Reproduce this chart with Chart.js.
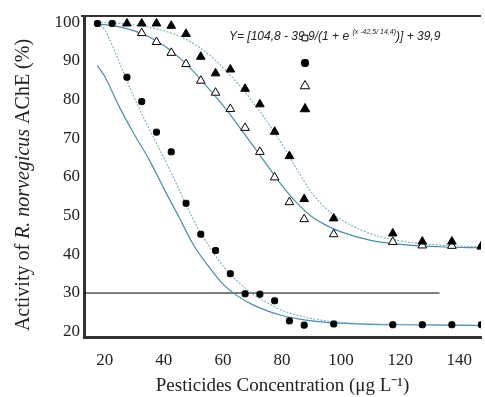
<!DOCTYPE html>
<html lang="en">
<head>
<meta charset="UTF-8" />
<title>AChE activity vs pesticide concentration</title>
<script src="https://cdn.jsdelivr.net/npm/chart.js"></script>
<style>
  html, body { margin: 0; padding: 0; background: #fff; }
  canvas { display: block; }
</style>
</head>
<body>
<canvas id="acheChart" width="485" height="397"></canvas>
<script>
  // measured points (concentration, % activity)
  const concDots = [17.5, 22.5, 27.5, 32.5, 37.5, 42.5, 47.5, 52.5, 57.5, 62.5, 67.5, 72.5, 77.5, 82.5, 87.5, 97.5, 117.5, 127.5, 137.5, 147.5];
  const actDots = [99.7, 99.7, 85.8, 79.5, 71.6, 66.5, 53.2, 45.2, 41, 35, 29.8, 29.7, 28, 22.8, 21.7, 22, 21.8, 21.8, 21.8, 21.8];

  const concOpenTri = [32.5, 37.5, 42.5, 47.5, 52.5, 57.5, 62.5, 67.5, 72.5, 77.5, 82.5, 87.5, 97.5, 117.5, 127.5, 137.5, 147.5];
  const actOpenTri = [97.2, 94.9, 92.1, 89.2, 84.9, 81.8, 77.6, 72.7, 66.5, 59.9, 53.5, 49.1, 45.2, 43.2, 42.3, 42.2, 42];

  const concFillTri = [27.5, 32.5, 37.5, 42.5, 47.5, 52.5, 57.5, 62.5, 67.5, 72.5, 77.5, 82.5, 87.5, 97.5, 117.5, 127.5, 137.5, 147.5];
  const actFillTri = [99.7, 99.7, 99.7, 99.1, 97, 91.1, 86.8, 87.8, 82.8, 78.8, 71.7, 65.4, 54.3, 49.3, 45.4, 43.3, 43.3, 42.2];

  // fitted curves at these concentrations
  const curveX = [17.5, 20, 25, 30, 35, 40, 45, 50, 55, 60, 65, 70, 75, 80, 85, 90, 95, 100, 110, 120, 135, 147.5];
  const fitLowA = [88.8, 86, 78, 71, 64.5, 57, 49.8, 42.5, 37, 32.3, 29.2, 27, 25.4, 24.2, 23.4, 22.8, 22.4, 22.2, 21.9, 21.8, 21.7, 21.6];
  const fitLowB = [99.7, 98, 89.5, 80.5, 72.5, 65, 57, 49, 42.5, 37, 33, 29.8, 27.5, 25.5, 24.3, 23.4, 22.8, 22.4, 22, 21.9, 21.8, 21.7];
  const fitHighA = [99.5, 99.4, 98.8, 97.8, 96.2, 94, 91, 87.3, 83, 78.5, 73.5, 68.3, 63, 57.8, 53.3, 49.8, 47.5, 45.8, 43.6, 42.6, 41.9, 41.7];
  const fitHighB = [100, 99.9, 99.7, 99.3, 98.7, 97.8, 96.5, 94.5, 91.8, 88.3, 84.2, 79.5, 74.3, 68.5, 62, 56, 51.8, 49, 45.3, 43.5, 42.3, 42];

  // 30 % reference line
  const refLineX = [12.96, 133.3];
  const refLineY = [30, 30];

  const xTicks = [20, 40, 60, 80, 100, 120, 140];
  const yTicks = [20, 30, 40, 50, 60, 70, 80, 90, 100];

  const eqMain = 'Y= [104,8 - 39,9/(1 + e ';
  const eqSup = '(x -42,5/ 14,4)';
  const eqTail = ')] + 39,9';

  const xTitle = 'Pesticides Concentration (\u03bcg L\u207b\u00b9)';
  const yTitleParts = [['Activity of ', false], ['R. norvegicus', true], [' AChE (%)', false]];

  const serif = '"Liberation Serif", "Times New Roman", serif';
  const pts = (xs, ys) => xs.map((x, i) => ({ x: x, y: ys[i] }));

  const solidCol = '#4a8ea6';
  const dotCol = '#78aec4';

  function curve(data, dotted) {
    return {
      data: data,
      showLine: true,
      pointRadius: 0,
      borderColor: dotted ? dotCol : solidCol,
      borderWidth: dotted ? 1.1 : 1.2,
      borderDash: dotted ? [2, 1.5] : [],
      cubicInterpolationMode: 'monotone',
      fill: false
    };
  }

  const extras = {
    id: 'extras',
    afterDraw(chart) {
      const { ctx, chartArea } = chart;
      ctx.save();

      // top frame line
      ctx.strokeStyle = '#333';
      ctx.lineWidth = 2;
      ctx.beginPath();
      ctx.moveTo(chartArea.left - 3, chartArea.top);
      ctx.lineTo(chartArea.right, chartArea.top);
      ctx.stroke();

      // equation
      let ex = chartArea.left + 145;
      const ey = chartArea.top + 24;
      ctx.fillStyle = '#222';
      ctx.textBaseline = 'alphabetic';
      ctx.textAlign = 'left';
      ctx.font = 'italic 12px "Liberation Sans", Arial, sans-serif';
      ctx.fillText(eqMain, ex, ey);
      ex += ctx.measureText(eqMain).width;
      ctx.font = 'italic 7px "Liberation Sans", Arial, sans-serif';
      ctx.fillText(eqSup, ex, ey - 6);
      ex += ctx.measureText(eqSup).width;
      ctx.font = 'italic 12px "Liberation Sans", Arial, sans-serif';
      ctx.fillText(eqTail, ex, ey);

      // symbol key (no labels in the original)
      const lx = chartArea.left + 221;
      const keys = [
        { style: 'rect', r: 4, fill: '#fff', dy: 22 },
        { style: 'rectRounded', r: 4, fill: '#000', dy: 47 },
        { style: 'triangle', r: 5.5, fill: '#fff', dy: 70 },
        { style: 'triangle', r: 5.5, fill: '#000', dy: 93 }
      ];
      keys.forEach(k => {
        ctx.fillStyle = k.fill;
        ctx.strokeStyle = '#000';
        ctx.lineWidth = 1;
        Chart.helpers.drawPoint(ctx, { pointStyle: k.style, radius: k.r, rotation: 0, borderWidth: 1 }, lx, chartArea.top + k.dy);
      });

      // y axis title with italic species name
      ctx.translate(24, 185);
      ctx.rotate(-Math.PI / 2);
      ctx.fillStyle = '#222';
      ctx.textBaseline = 'middle';
      const fontOf = it => (it ? 'italic ' : '') + '20px ' + serif;
      let total = 0;
      yTitleParts.forEach(p => { ctx.font = fontOf(p[1]); total += ctx.measureText(p[0]).width; });
      let tx = -total / 2;
      yTitleParts.forEach(p => {
        ctx.font = fontOf(p[1]);
        ctx.fillText(p[0], tx, 0);
        tx += ctx.measureText(p[0]).width;
      });
      ctx.restore();
    }
  };

  const ctx = document.getElementById('acheChart').getContext('2d');
  const acheChart = new Chart(ctx, {
    type: 'scatter',
    data: {
      datasets: [
        {
          data: pts(concFillTri, actFillTri),
          pointStyle: 'triangle',
          pointRadius: 5,
          backgroundColor: '#000',
          borderColor: '#000',
          borderWidth: 1
        },
        {
          data: pts(concOpenTri, actOpenTri),
          pointStyle: 'triangle',
          pointRadius: 5,
          backgroundColor: '#fff',
          borderColor: '#000',
          borderWidth: 1
        },
        {
          data: pts(concDots, actDots),
          pointStyle: 'rectRounded',
          pointRadius: 3.5,
          backgroundColor: '#000',
          borderColor: '#000',
          borderWidth: 1
        },
        curve(pts(curveX, fitHighB), true),
        curve(pts(curveX, fitHighA), false),
        curve(pts(curveX, fitLowB), true),
        curve(pts(curveX, fitLowA), false),
        {
          data: pts(refLineX, refLineY),
          showLine: true,
          pointRadius: 0,
          borderColor: '#000',
          borderWidth: 1
        }
      ]
    },
    options: {
      responsive: false,
      animation: false,
      events: [],
      layout: { autoPadding: false, padding: { top: 16, left: 0, right: 0, bottom: 0 } },
      plugins: {
        legend: { display: false },
        tooltip: { enabled: false }
      },
      scales: {
        x: {
          type: 'linear',
          min: 12.96,
          max: 147.37,
          afterBuildTicks: s => { s.ticks = xTicks.map(v => ({ value: v })); },
          afterFit: s => { s.height = 60; },
          grid: { display: false, drawTicks: false },
          border: { display: true, color: '#333', width: 3 },
          ticks: {
            padding: 13,
            color: '#222',
            font: { family: serif, size: 17 }
          },
          title: {
            display: true,
            text: xTitle,
            color: '#222',
            font: { family: serif, size: 19 },
            padding: { top: 0, bottom: 0 }
          }
        },
        y: {
          type: 'linear',
          min: 18.63,
          max: 101.63,
          afterBuildTicks: s => { s.ticks = yTicks.map(v => ({ value: v })); },
          afterFit: s => { s.width = 84; },
          grid: { display: false, drawTicks: true, tickLength: 3, color: '#333' },
          border: { display: true, color: '#333', width: 3 },
          ticks: {
            padding: 1,
            color: '#222',
            font: { family: serif, size: 17 }
          }
        }
      }
    },
    plugins: [extras]
  });
</script>
</body>
</html>
